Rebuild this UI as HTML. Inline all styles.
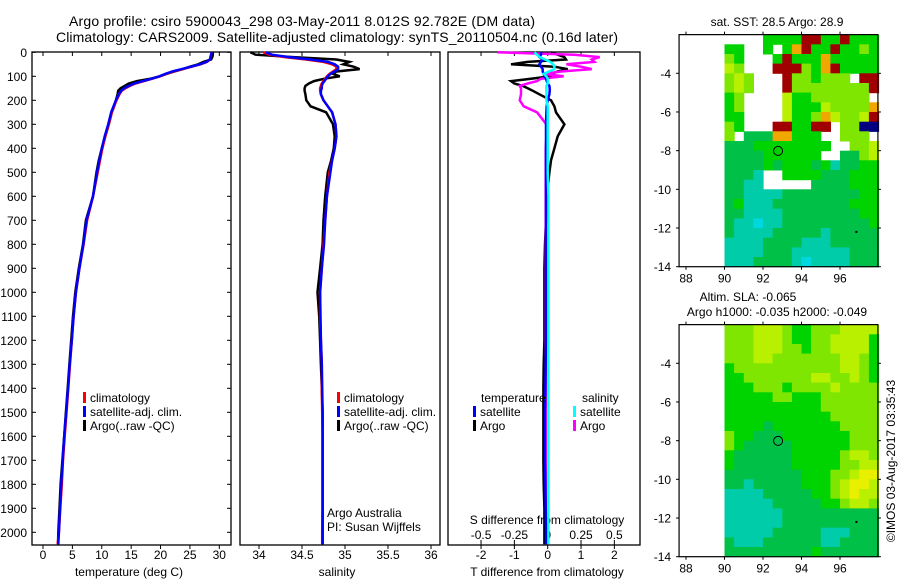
<!DOCTYPE html>
<html><head><meta charset="utf-8"><style>
html,body{margin:0;padding:0;background:#fff;}
svg{display:block;font-family:"Liberation Sans",sans-serif;}
</style></head><body>
<svg id="chart" width="900" height="580" viewBox="0 0 900 580" xmlns="http://www.w3.org/2000/svg">
<rect width="900" height="580" fill="#fff"/>
<text x="69" y="26" font-size="14" textLength="466">Argo profile: csiro 5900043_298 03-May-2011 8.012S 92.782E (DM data)</text>
<text x="56" y="42" font-size="14" textLength="562">Climatology: CARS2009. Satellite-adjusted climatology: synTS_20110504.nc (0.16d later)</text>
<g id="g1"></g>
<g id="g2"></g>
<g id="g3"></g>
<g id="m1"></g>
<g id="m2"></g>
<text transform="translate(895,461) rotate(-90)" text-anchor="middle" font-size="12">©IMOS 03-Aug-2017 03:35:43</text>
</svg>
<script>
const depths=[0,10,20,30,40,50,60,70,80,90,100,110,120,130,140,150,160,175,200,225,250,300,350,400,450,500,600,700,800,900,1000,1100,1200,1300,1400,1500,1600,1700,1800,1900,2000,2050];
const tempClim=[28.7,28.6,28.5,28.4,27.9,26.8,25.3,23.8,22.2,20.9,19.9,18.6,17.2,15.7,14.8,14.0,13.4,13.0,12.5,12.1,11.7,11.2,10.6,10.1,9.7,9.3,8.5,7.5,6.9,6.2,5.6,5.2,4.9,4.6,4.3,4.0,3.7,3.4,3.2,2.95,2.7,2.5];
const tempSat=[28.7,28.6,28.5,28.4,27.8,26.7,25.2,23.6,22.0,20.8,19.8,18.5,17.0,15.5,14.6,13.8,13.3,12.9,12.4,12.0,11.6,11.1,10.5,10.0,9.6,9.2,8.5,7.4,6.85,6.2,5.6,5.2,4.9,4.55,4.25,3.95,3.6,3.35,3.1,2.9,2.7,2.6];
const tempArgo=[28.9,28.9,28.8,28.6,27.3,26.4,25.0,23.8,22.3,21.0,19.9,18.3,16.0,14.6,13.9,13.2,12.8,12.7,12.4,12.1,11.7,11.2,10.6,10.0,9.5,9.1,8.5,7.3,6.8,6.1,5.5,5.1,4.8,4.5,4.2,3.9,3.6,3.3,3.0,2.8,2.6,2.55];
const salClim=[34.05,34.12,34.3,34.55,34.75,34.85,34.9,34.9,34.86,34.82,34.79,34.77,34.75,34.73,34.72,34.71,34.71,34.72,34.75,34.8,34.85,34.89,34.9,34.88,34.85,34.82,34.79,34.77,34.75,34.73,34.71,34.71,34.72,34.73,34.73,34.735,34.74,34.74,34.74,34.74,34.735,34.735];
const salSat=[34.08,34.15,34.35,34.6,34.8,34.88,34.92,34.92,34.88,34.83,34.8,34.78,34.76,34.74,34.73,34.73,34.72,34.72,34.75,34.8,34.85,34.89,34.9,34.88,34.85,34.83,34.79,34.77,34.756,34.73,34.71,34.715,34.72,34.73,34.735,34.74,34.74,34.74,34.74,34.74,34.74,34.74];
const salArgo=[33.9,33.96,34.4,34.9,35.05,34.98,35.1,35.17,34.9,34.86,34.94,34.76,34.64,34.58,34.54,34.53,34.53,34.54,34.55,34.6,34.78,34.86,34.88,34.87,34.84,34.8,34.77,34.75,34.74,34.71,34.68,34.7,34.71,34.72,34.73,34.74,34.74,34.74,34.74,34.74,34.74,34.74];
const dTSat=[-0.2,-0.2,-0.25,-0.15,-0.2,-0.25,-0.2,-0.15,-0.15,-0.12,-0.1,-0.05,-0.03,0,0.05,0.06,0.06,0.05,0,-0.03,-0.04,-0.05,-0.05,-0.05,-0.05,-0.05,-0.05,-0.05,-0.05,-0.05,-0.05,-0.05,-0.05,-0.06,-0.07,-0.08,-0.08,-0.08,-0.07,-0.06,-0.05,-0.05];
const dTArgo=[0.1,0.3,0.5,0.55,-0.6,-1.1,0.2,0.6,0.3,0.1,0.1,-0.5,-1.1,-1.0,-0.75,-0.6,-0.45,-0.25,0.1,0.2,0.25,0.5,0.3,0.2,0.1,0.05,-0.03,-0.05,-0.08,-0.1,-0.1,-0.1,-0.1,-0.12,-0.13,-0.13,-0.13,-0.13,-0.12,-0.1,-0.1,-0.1];
const dSSat=[-0.1,-0.08,-0.06,-0.02,0.02,0.04,0.05,0.05,0.01,-0.03,-0.01,0,0,0,-0.01,-0.01,-0.01,-0.01,-0.01,0,0,0,0,0,0,0,0.005,0.005,0.005,0.005,0.005,0.005,0.005,0.005,0.005,0.005,0.005,0.005,0.005,0.005,0.005,0.005];
const dSArgo=[-0.38,0.2,0.39,0.33,0.35,0.14,0.25,0.33,0.1,-0.03,0.12,-0.05,-0.08,-0.15,-0.21,-0.2,-0.2,-0.2,-0.21,-0.18,-0.08,-0.01,-0.01,-0.015,-0.015,-0.015,-0.015,-0.015,-0.015,-0.015,-0.015,-0.015,-0.015,-0.015,-0.015,-0.015,-0.015,-0.015,-0.015,-0.015,-0.01,-0.01];
const depthTicks=[0,100,200,300,400,500,600,700,800,900,1000,1100,1200,1300,1400,1500,1600,1700,1800,1900,2000];
const tempTicks=[0,5,10,15,20,25,30];
const salTicks=[34,34.5,35,35.5,36];
const salTickLabels=["34","34.5","35","35.5","36"];
const dTTicks=[-2,-1,0,1,2];
const dSTicks=[-0.5,-0.25,0,0.25,0.5];
const dSTickLabels=["-0.5","-0.25","0","0.25","0.5"];
const lonTicks=[88,90,92,94,96];
const latTicks=[-4,-6,-8,-10,-12,-14];
const argoLon=92.782, argoLat=-8.012;
const sstGrid=[
"wwwwggggrrggrggg","ggwwgwgorggrgglg","lgwwwgrgggoggggg","ylwwwrrrlgorgggg",
"lylwwwrllglllwrr","lylwwwrllllllllr","glwwwwyggllllllw","glwwwwygggyllllo",
"ggwwwwyggloyllyr","lgwwwrrggrrwllbb","lwGGGoogggwwlllw","GGGggggggggwwlly",
"GGGGggggggwwGGly","GGGGgGgggGgcGGgg","GGGcwwggggGGGggg","GGccwwwwwGGGGggg",
"GGccccGGGGGGGGgg","GgcccGGGGGGGGggg","GGccccGGGGGGGGgg","GccCccGGGGGGGGGg",
"GccccGGGGGcGGGGG","ccccGGGGcccGGGGG","ccccGGGccccccGGG","cccGGGGcCccccGGG"];
const slaGrid=[
"lllyyylgglllyyyy","lllyyylggllyyyyg","lllyyyllgllyyyyg","lllyylllllllyylg",
"glllllllllllyylg","gglllllllyyllylg","ggglllgllllyllll","gggggllggglllllll",
"ggggggggggllllll","gggggggggggllll l","ggggGgggggggllll","lggGGGggggggglll",
"lgGGGGGggggggll l","gGGGGGGggggglyyl","gGGGGGGgggggllyy","GGGGGGGGgggllyYY",
"GGcGGGGGggglyYYy","ccccGGGGGgglyYyy","cccccGGGGGgglyyl","ccccccGGGGGGGGGG",
"ccccccGGGGGGGGGG","cccccGGGGGcccGGG","GcccGGGGGGccGGGG","GGGGGGGGGgGGGGGG"];
</script>
<script>
const NS="http://www.w3.org/2000/svg";
function mk(p,tag,a){const e=document.createElementNS(NS,tag);for(const k in a)e.setAttribute(k,a[k]);p.appendChild(e);return e;}
function tx(p,x,y,s,anchor,size){const t=mk(p,"text",{x:x,y:y,"font-size":size||12,"text-anchor":anchor||"start"});t.textContent=s;return t;}
const yD=d=>52.3+0.24*d;
const xT=t=>43+5.877*t;
const xS=s=>259+86*(s-34);
const xDT=v=>547.7+33.33*v;
const xDS=v=>547.7+133.3*v;
const TOP=52,BOT=545;
function line(p,xs,fx,col,name){
  const pts=depths.map((d,i)=>fx(xs[i]).toFixed(1)+","+yD(d).toFixed(1)).join(" ");
  const e=mk(p,"polyline",{points:pts,fill:"none",stroke:col,"stroke-width":2.5,"stroke-linejoin":"miter"});
  
  
}
function frame(p,x0,x1,name){
  const r=mk(p,"rect",{x:x0,y:TOP,width:x1-x0,height:BOT-TOP,fill:"none",stroke:"#000","stroke-width":1.3});
  
  
}
function legendRow(p,x,y,col,label){
  const b=mk(p,"rect",{x:x,y:y-10,width:3,height:11,fill:col});
  
  
  const t=tx(p,x+7,y,label);
  
  
}
const g1=document.getElementById("g1");
frame(g1,32,231,"temperature-axes");
depthTicks.forEach(d=>{
  mk(g1,"line",{x1:32,x2:36,y1:yD(d),y2:yD(d),stroke:"#000"});
  mk(g1,"line",{x1:227,x2:231,y1:yD(d),y2:yD(d),stroke:"#000"});
  const t=tx(g1,27,yD(d)+4.5,String(d),"end");
  
  
});
tempTicks.forEach(v=>{
  mk(g1,"line",{x1:xT(v),x2:xT(v),y1:TOP,y2:TOP+4,stroke:"#000"});
  mk(g1,"line",{x1:xT(v),x2:xT(v),y1:BOT,y2:BOT+4,stroke:"#000"});
  const t=tx(g1,xT(v),559,String(v),"middle");
  
  
});
let at=tx(g1,129,576,"temperature (deg C)","middle");


line(g1,tempArgo,xT,"#000","temperature-argo-line");
line(g1,tempClim,xT,"#f00","temperature-climatology-line");
line(g1,tempSat,xT,"#00f","temperature-satellite-line");
legendRow(g1,83,402,"#f00","climatology");
legendRow(g1,83,416,"#00f","satellite-adj. clim.");
legendRow(g1,83,430,"#000","Argo(..raw -QC)");
const g2=document.getElementById("g2");
frame(g2,240,440,"salinity-axes");
salTicks.forEach((v,i)=>{
  mk(g2,"line",{x1:xS(v),x2:xS(v),y1:TOP,y2:TOP+4,stroke:"#000"});
  mk(g2,"line",{x1:xS(v),x2:xS(v),y1:BOT,y2:BOT+4,stroke:"#000"});
  const t=tx(g2,xS(v),559,salTickLabels[i],"middle");
  
  
});
at=tx(g2,337,576,"salinity","middle");


line(g2,salArgo,xS,"#000","salinity-argo-line");
line(g2,salClim,xS,"#f00","salinity-climatology-line");
line(g2,salSat,xS,"#00f","salinity-satellite-line");
legendRow(g2,337,402,"#f00","climatology");
legendRow(g2,337,416,"#00f","satellite-adj. clim.");
legendRow(g2,337,430,"#000","Argo(..raw -QC)");
at=tx(g2,327,517,"Argo Australia");


at=tx(g2,327,531,"PI: Susan Wijffels");


const g3=document.getElementById("g3");
frame(g3,448,640,"difference-axes");
dTTicks.forEach(v=>{
  mk(g3,"line",{x1:xDT(v),x2:xDT(v),y1:TOP,y2:TOP+4,stroke:"#000"});
  mk(g3,"line",{x1:xDT(v),x2:xDT(v),y1:BOT,y2:BOT+4,stroke:"#000"});
  const t=tx(g3,xDT(v),559,String(v),"middle");
  
  
});
dSTicks.forEach((v,i)=>{
  mk(g3,"line",{x1:xDS(v),x2:xDS(v),y1:BOT-5,y2:BOT,stroke:"#000"});
  const t=tx(g3,xDS(v),539,dSTickLabels[i],"middle");
  
  
});
at=tx(g3,547,524,"S difference from climatology","middle");


at=tx(g3,547,576,"T difference from climatology","middle");


line(g3,dTArgo,xDT,"#000","tdiff-argo-line");
line(g3,dSArgo,xDS,"#f0f","sdiff-argo-line");
line(g3,dTSat,xDT,"#00f","tdiff-satellite-line");
line(g3,dSSat,xDS,"#0ff","sdiff-satellite-line");
at=tx(g3,481,402,"temperature");


at=tx(g3,582,402,"salinity");


legendRow(g3,473,416,"#00f","satellite");
legendRow(g3,473,430,"#000","Argo");
legendRow(g3,573,416,"#0ff","satellite");
legendRow(g3,573,430,"#f0f","Argo");
const COLORS={g:"#00d400",G:"#00c048",c:"#00ccaa",C:"#00d8e0",l:"#7ee600",y:"#b8f000",Y:"#e8f000",r:"#a00000",o:"#f0a800",b:"#000080"};
function drawMap(id,grid,oy,titles){
  const m=document.getElementById(id);
  const mx=lon=>686+19.25*(lon-88);
  const my=lat=>oy+73.3+19.34*(-4-lat);
  grid.forEach((row,ri)=>{
    const cells=row.replace(/ /g,"").slice(0,16);
    for(let ci=0;ci<cells.length;ci++){
      const col=COLORS[cells[ci]];
      if(!col)continue;
      const lon=90+ci*0.5, lat=-2-ri*0.5;
      const r=mk(m,"rect",{x:mx(lon).toFixed(1),y:my(lat).toFixed(1),width:10.2,height:10.2,fill:col});
      
      
    }
  });
  const x0=mx(87.64),x1=mx(97.97),y0=my(-2),y1=my(-14);
  const f=mk(m,"rect",{x:x0,y:y0,width:x1-x0,height:y1-y0,fill:"none",stroke:"#000","stroke-width":1.2});
  
  
  lonTicks.forEach(v=>{
    mk(m,"line",{x1:mx(v),x2:mx(v),y1:y1,y2:y1+3,stroke:"#000"});
    mk(m,"line",{x1:mx(v),x2:mx(v),y1:y0,y2:y0-3,stroke:"#000"});
    const t=tx(m,mx(v),y1+16,String(v),"middle");
    
    
  });
  latTicks.forEach(v=>{
    mk(m,"line",{x1:x0-3,x2:x0,y1:my(v),y2:my(v),stroke:"#000"});
    mk(m,"line",{x1:x1,x2:x1+3,y1:my(v),y2:my(v),stroke:"#000"});
    const t=tx(m,x0-8,my(v)+4.5,String(v),"end");
    
    
  });
  const c=mk(m,"circle",{cx:mx(argoLon),cy:my(argoLat),r:4.5,fill:"none",stroke:"#000","stroke-width":1});
  
  
  mk(m,"rect",{x:mx(96.8),y:my(-12.15),width:2,height:2,fill:"#000"});
  titles.forEach(tt=>{
    const t=tx(m,tt[0],tt[1],tt[2],"middle");
    
    
  });
}
drawMap("m1",sstGrid,0,[[777,26,"sat. SST: 28.5 Argo: 28.9"]]);
drawMap("m2",slaGrid,290,[[748,301,"Altim. SLA: -0.065"],[777,316,"Argo h1000: -0.035 h2000: -0.049"]]);
</script>
</body></html>
